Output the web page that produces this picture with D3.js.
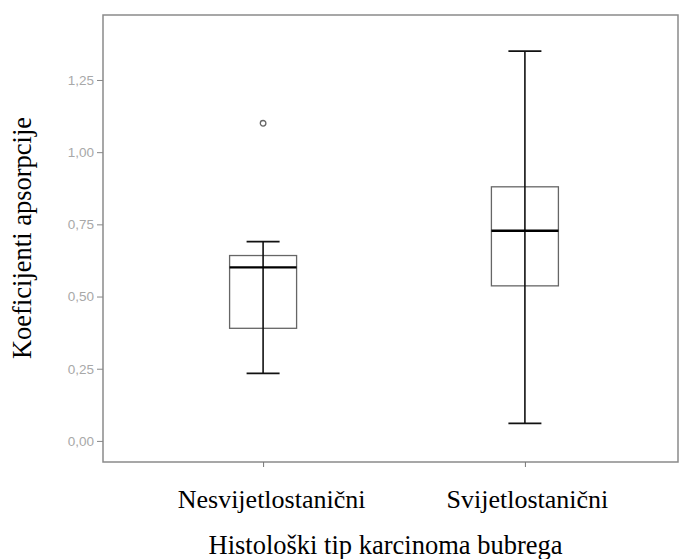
<!DOCTYPE html>
<html>
<head>
<meta charset="utf-8">
<script src="https://cdn.jsdelivr.net/npm/d3@7"></script>
<style>
  body { margin: 0; background: #fff; }
  svg { display: block; }
</style>
</head>
<body>
<script>
// categories and five-number summaries
const categories = ["Nesvijetlostanični", "Svijetlostanični"];
const lowWhisker = [0.234, 0.061];
const q1 = [0.390, 0.537];
const median = [0.601, 0.728];
const q3 = [0.642, 0.880];
const highWhisker = [0.690, 1.350];
const outliers = [[1.10], []];
const yTicks = [0, 0.25, 0.5, 0.75, 1.0, 1.25];

const W = 680, H = 559;
const plot = { left: 103, right: 678, top: 15, bottom: 462 };
const serif = "'Liberation Serif', 'Times New Roman', serif";

const svg = d3.select("body").append("svg")
    .attr("width", W)
    .attr("height", H);

const x = d3.scalePoint()
    .domain(categories)
    .range([plot.left + 3, plot.right + 4])
    .padding(0.6);

const y = d3.scaleLinear()
    .domain([-0.073, 1.475])
    .range([plot.bottom, plot.top]);

// frame
svg.append("rect")
    .attr("x", plot.left)
    .attr("y", plot.top)
    .attr("width", plot.right - plot.left)
    .attr("height", plot.bottom - plot.top)
    .attr("fill", "none")
    .attr("stroke", "#8a8a8a")
    .attr("stroke-width", 1.5);

// y axis
const yAxis = svg.append("g")
    .attr("transform", `translate(${plot.left},0)`)
    .call(d3.axisLeft(y).tickValues(yTicks).tickSize(6).tickPadding(3)
        .tickFormat(d => d3.format(".2f")(d).replace(".", ",")));
yAxis.select(".domain").remove();
yAxis.selectAll(".tick line").attr("stroke", "#888");
yAxis.selectAll(".tick text")
    .attr("fill", "#a8a8a8")
    .style("font-family", "Arial, 'Liberation Sans', sans-serif")
    .style("font-size", "13.5px");

// x axis
const xAxis = svg.append("g")
    .attr("transform", `translate(0,${plot.bottom})`)
    .call(d3.axisBottom(x).tickSize(5).tickPadding(23));
xAxis.select(".domain").remove();
xAxis.selectAll(".tick line").attr("stroke", "#777");
xAxis.selectAll(".tick text")
    .attr("fill", "#000")
    .attr("dy", "0.71em")
    .attr("dx", (d, i) => i === 0 ? 8 : 2)
    .style("font-family", serif)
    .style("font-size", "26px");

// axis titles
svg.append("text")
    .attr("x", (plot.left + plot.right) / 2 - 5)
    .attr("y", 554)
    .attr("text-anchor", "middle")
    .style("font-family", serif)
    .style("font-size", "26.5px")
    .text("Histološki tip karcinoma bubrega");

svg.append("text")
    .attr("transform", "translate(31,238) rotate(-90)")
    .attr("text-anchor", "middle")
    .style("font-family", serif)
    .style("font-size", "26.5px")
    .text("Koeficijenti apsorpcije");

// boxes
const boxW = 67, capW = 33;
const boxes = svg.append("g")
    .selectAll("g")
    .data(categories.map((c, i) => ({
        cat: c, lo: lowWhisker[i], q1: q1[i], med: median[i], q3: q3[i], hi: highWhisker[i], out: outliers[i]
    })))
    .join("g")
    .attr("transform", d => `translate(${x(d.cat)},0)`);

boxes.append("rect")
    .attr("x", -boxW / 2)
    .attr("y", d => y(d.q3))
    .attr("width", boxW)
    .attr("height", d => y(d.q1) - y(d.q3))
    .attr("fill", "none")
    .attr("stroke", "#666")
    .attr("stroke-width", 1.3);

boxes.append("line")
    .attr("y1", d => y(d.lo))
    .attr("y2", d => y(d.hi))
    .attr("stroke", "#111")
    .attr("stroke-width", 1.6);

boxes.selectAll(".cap")
    .data(d => [d.lo, d.hi])
    .join("line")
    .attr("class", "cap")
    .attr("x1", -capW / 2)
    .attr("x2", capW / 2)
    .attr("y1", d => y(d))
    .attr("y2", d => y(d))
    .attr("stroke", "#111")
    .attr("stroke-width", 1.8);

boxes.append("line")
    .attr("x1", -boxW / 2)
    .attr("x2", boxW / 2)
    .attr("y1", d => y(d.med))
    .attr("y2", d => y(d.med))
    .attr("stroke", "#000")
    .attr("stroke-width", 2.4);

boxes.selectAll(".outlier")
    .data(d => d.out)
    .join("circle")
    .attr("class", "outlier")
    .attr("cy", d => y(d))
    .attr("r", 2.8)
    .attr("fill", "none")
    .attr("stroke", "#666")
    .attr("stroke-width", 1.3);
</script>
</body>
</html>
